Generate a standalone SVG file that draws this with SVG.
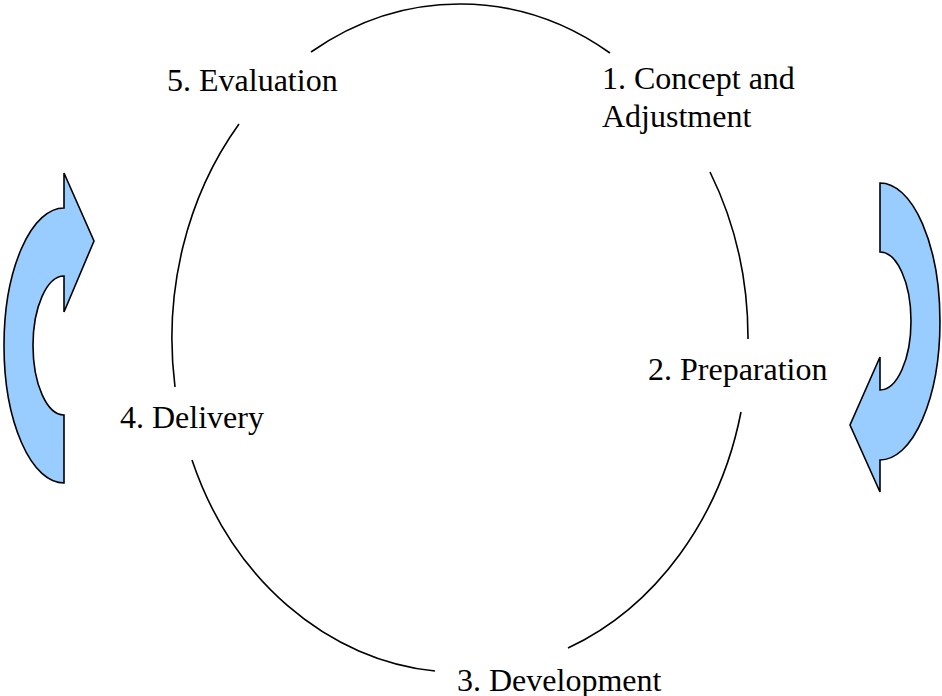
<svg xmlns="http://www.w3.org/2000/svg" width="942" height="696" viewBox="0 0 942 696">
  <style>
    .arc { fill: none; stroke: #000; stroke-width: 1.6; }
    .label { font-family: 'Liberation Serif', 'DejaVu Serif', 'Times New Roman', Times, serif; font-size: 32px; fill: #000; }
    .turn { fill: #99CCFF; stroke: #000; stroke-width: 1.6; stroke-linejoin: miter; }
  </style>
  <rect width="942" height="696" fill="#fff"/>

  <!-- cycle ring: one ellipse broken where the stage labels sit -->
  <g id="connectors">
    <path class="arc" d="M311,52 A288,334 0 0 1 610,53"/>
    <path class="arc" d="M710,172 A288,334 0 0 1 748,339"/>
    <path class="arc" d="M741,412 A288,334 0 0 1 568,648"/>
    <path class="arc" d="M435,671 A288,334 0 0 1 192,460"/>
    <path class="arc" d="M175,387 A288,334 0 0 1 239,124"/>
  </g>

  <!-- stages -->
  <g id="stage1" font-family="Liberation Serif, DejaVu Serif, serif">
    <text class="label" x="602" y="89">1. Concept and</text>
    <text class="label" x="602" y="127">Adjustment</text>
  </g>
  <g id="stage2" font-family="Liberation Serif, DejaVu Serif, serif">
    <text class="label" x="648" y="380">2. Preparation</text>
  </g>
  <g id="stage3" font-family="Liberation Serif, DejaVu Serif, serif">
    <text class="label" x="457" y="691">3. Development</text>
  </g>
  <g id="stage4" font-family="Liberation Serif, DejaVu Serif, serif">
    <text class="label" x="120" y="428">4. Delivery</text>
  </g>
  <g id="stage5" font-family="Liberation Serif, DejaVu Serif, serif">
    <text class="label" x="167" y="91">5. Evaluation</text>
  </g>

  <!-- curved turn arrows either side of the ring -->
  <g id="turn-left">
    <path class="turn" d="M64,208 L64,173 L94,241 L64,312 L64,276 A31,69.5 0 0 0 64,415 L64,483 A60,137.5 0 0 1 64,208 Z"/>
  </g>
  <g id="turn-right">
    <path class="turn" d="M880,183 A60,138.5 0 0 1 880,460 L880,492 L850,425 L880,357 L880,390 A31,69 0 0 0 880,252 Z"/>
  </g>
</svg>
